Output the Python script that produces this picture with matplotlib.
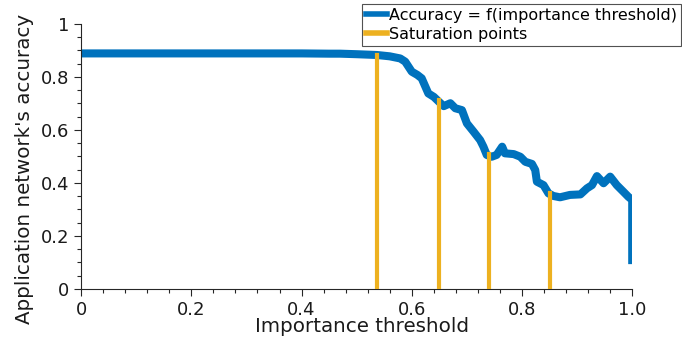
import numpy as np
import matplotlib
matplotlib.use('Agg')
import matplotlib.pyplot as plt
from matplotlib.ticker import MultipleLocator

# accuracy curve
threshold = [0.0, 0.10, 0.20, 0.30, 0.40, 0.45, 0.47, 0.50, 0.537, 0.56, 0.579, 0.588,
             0.600, 0.610, 0.618, 0.630, 0.640, 0.649, 0.658, 0.670, 0.679, 0.691,
             0.700, 0.712, 0.724, 0.730, 0.736, 0.745, 0.754, 0.764, 0.769, 0.785,
             0.797, 0.806, 0.818, 0.824, 0.827, 0.839, 0.848, 0.857, 0.869, 0.887,
             0.906, 0.918, 0.927, 0.936, 0.948, 0.960, 0.972, 0.984, 0.993, 1.0, 1.0]
accuracy = [0.889, 0.889, 0.889, 0.889, 0.889, 0.888, 0.888, 0.886, 0.883, 0.878, 0.870, 0.858,
            0.820, 0.808, 0.795, 0.738, 0.725, 0.707, 0.690, 0.701, 0.682, 0.675,
            0.625, 0.594, 0.562, 0.537, 0.506, 0.499, 0.506, 0.537, 0.512, 0.509,
            0.499, 0.480, 0.472, 0.449, 0.405, 0.392, 0.361, 0.351, 0.346, 0.355,
            0.357, 0.380, 0.392, 0.426, 0.399, 0.424, 0.392, 0.367, 0.348, 0.336, 0.109]

sat_x = [0.537, 0.650, 0.740, 0.850]
sat_y = [0.883, 0.712, 0.508, 0.361]

blue = '#0072BD'
yellow = '#EDB120'
ink = '#262626'

fig = plt.figure(figsize=(6.82, 3.38), dpi=100)
ax = fig.add_axes([0.119, 0.145, 0.808, 0.784])

ax.plot(threshold, accuracy, color=blue, linewidth=5.8,
        solid_joinstyle='round', label='Accuracy = f(importance threshold)')
for i, (sx, sy) in enumerate(zip(sat_x, sat_y)):
    ax.plot([sx, sx], [0, sy], color=yellow, linewidth=3,
            label='Saturation points' if i == 0 else None, zorder=3)

ax.set_xlim(0, 1)
ax.set_ylim(0, 1)
ax.set_xticks([0, 0.2, 0.4, 0.6, 0.8, 1.0])
ax.set_xticklabels(['0', '0.2', '0.4', '0.6', '0.8', '1.0'])
ax.set_yticks([0, 0.2, 0.4, 0.6, 0.8, 1.0])
ax.set_yticklabels(['0', '0.2', '0.4', '0.6', '0.8', '1'])
ax.xaxis.set_minor_locator(MultipleLocator(0.04))
ax.yaxis.set_minor_locator(MultipleLocator(0.05))
ax.tick_params(which='major', direction='out', length=5, width=0.8, labelsize=13,
               colors=ink, labelcolor='#1a1a1a')
ax.tick_params(which='minor', direction='out', length=3, width=0.8, colors=ink)
for s in ['top', 'right']:
    ax.spines[s].set_visible(False)
for s in ['left', 'bottom']:
    ax.spines[s].set_color(ink)

ax.set_xlabel('Importance threshold', fontsize=14.3, labelpad=-1, color='#1a1a1a')
ax.set_ylabel("Application network's accuracy", fontsize=14.3, labelpad=5, color='#1a1a1a')
# labels sit a little off-centre in the original
ax.xaxis.label.set_x(0.51)
ax.yaxis.label.set_y(0.453)

leg = fig.legend(loc='upper right', bbox_to_anchor=(0.998, 0.988), fontsize=11.5,
                 handlelength=1.3, handletextpad=0.1, borderpad=0.25,
                 labelspacing=0.25, borderaxespad=0, fancybox=False,
                 frameon=True)
leg.get_frame().set_edgecolor(ink)
leg.get_frame().set_linewidth(0.8)
for h in leg.legend_handles:
    h.set_linewidth(4)

fig.savefig('out.png', dpi=100)
